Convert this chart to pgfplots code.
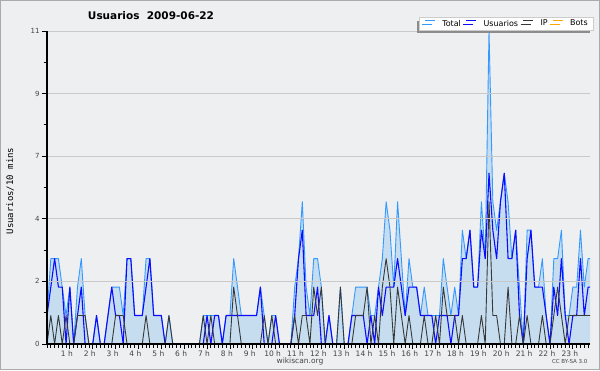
\documentclass[border=0pt]{standalone}
\usepackage{fontspec}
\setmainfont{DejaVu Sans}
\newfontfamily\monofont{DejaVu Sans Mono}
\usepackage{pgfplots}
\pgfplotsset{compat=1.18}
\usepackage{pgfplotstable}
\usetikzlibrary{shadows}
\definecolor{bg}{HTML}{EEEFF1}
\definecolor{frame}{HTML}{ABABAB}
\definecolor{fillc}{HTML}{BFDAF0}
\definecolor{totalc}{HTML}{3399FF}
\definecolor{usuc}{HTML}{0C0CFF}
\definecolor{ipc}{HTML}{383838}
\definecolor{botc}{HTML}{FFA500}
\definecolor{gridc}{HTML}{C9C9C9}
\definecolor{labc}{HTML}{444444}
\pgfplotstableread{
i T U IP B
0 1 1 0 0
1 3 2 1 0
2 3 3 0 0
3 3 2 1 0
4 2 2 0 0
5 1 0 1 0
6 2 2 0 0
7 0 0 0 0
8 2 1 1 0
9 3 2 1 0
10 1 0 1 0
11 0 0 0 0
12 0 0 0 0
13 1 1 0 0
14 0 0 0 0
15 0 0 0 0
16 1 1 0 0
17 2 2 0 0
18 2 1 1 0
19 2 1 1 0
20 1 0 1 0
21 3 3 0 0
22 3 3 0 0
23 1 1 0 0
24 1 1 0 0
25 1 1 0 0
26 3 2 1 0
27 3 3 0 0
28 1 1 0 0
29 1 1 0 0
30 1 1 0 0
31 0 0 0 0
32 1 0 1 0
33 0 0 0 0
34 0 0 0 0
35 0 0 0 0
36 0 0 0 0
37 0 0 0 0
38 0 0 0 0
39 0 0 0 0
40 0 0 0 0
41 1 0 1 0
42 1 1 0 0
43 1 0 1 0
44 1 1 0 0
45 1 1 0 0
46 0 0 0 0
47 1 1 0 0
48 1 1 0 0
49 3 1 2 0
50 2 1 1 0
51 1 1 0 0
52 1 1 0 0
53 1 1 0 0
54 1 1 0 0
55 1 1 0 0
56 2 2 0 0
57 1 0 1 0
58 0 0 0 0
59 1 0 1 0
60 1 1 0 0
61 0 0 0 0
62 0 0 0 0
63 0 0 0 0
64 0 0 0 0
65 2 1 1 0
66 3 3 0 0
67 5 4 1 0
68 2 1 1 0
69 1 1 0 0
70 3 1 2 0
71 3 2 1 0
72 2 0 2 0
73 0 0 0 0
74 1 1 0 0
75 0 0 0 0
76 0 0 0 0
77 2 0 2 0
78 0 0 0 0
79 0 0 0 0
80 1 1 0 0
81 2 1 1 0
82 2 1 1 0
83 2 1 1 0
84 2 0 2 0
85 1 1 0 0
86 1 0 1 0
87 2 2 0 0
88 3 1 2 0
89 5 2 3 0
90 4 2 2 0
91 2 2 0 0
92 5 3 2 0
93 3 2 1 0
94 1 1 0 0
95 3 2 1 0
96 2 2 0 0
97 2 2 0 0
98 1 1 0 0
99 2 1 1 0
100 1 1 0 0
101 1 1 0 0
102 1 0 1 0
103 1 1 0 0
104 3 1 2 0
105 2 1 1 0
106 1 0 1 0
107 2 1 1 0
108 1 1 0 0
109 4 3 1 0
110 3 3 0 0
111 4 4 0 0
112 2 2 0 0
113 2 2 0 0
114 5 4 1 0
115 3 3 0 0
116 11 6 5 0
117 5 4 1 0
118 4 3 1 0
119 5 5 0 0
120 6 6 0 0
121 5 3 2 0
122 3 3 0 0
123 4 4 0 0
124 2 1 1 0
125 0 0 0 0
126 4 3 1 0
127 4 4 0 0
128 2 2 0 0
129 2 2 0 0
130 3 2 1 0
131 1 1 0 0
132 0 0 0 0
133 3 2 1 0
134 3 1 2 0
135 4 3 1 0
136 1 1 0 0
137 1 0 1 0
138 2 1 1 0
139 2 1 1 0
140 4 3 1 0
141 2 1 1 0
142 3 2 1 0
143 3 2 1 0
}\datatable
\begin{document}
\begin{tikzpicture}[x=1pt,y=1pt]
\fill[bg] (0,0) rectangle (600,370);
\draw[frame, line width=1pt] (0.5,0.5) rectangle (599.5,369.5);
\begin{axis}[
  at={(47pt,26pt)}, anchor=south west,
  scale only axis, width=543pt, height=313pt,
  xmin=0, xmax=142.5, ymin=0, ymax=11,
  clip=true,
  axis on top,
  axis x line=bottom, axis y line=left,
  axis line style={-},
  x axis line style={line width=2pt},
  y axis line style={line width=1.2pt},
  ytick={0,2.2,4.4,6.6,8.8,11},
  yticklabels={0,2,4,7,9,11},
  minor ytick={1.1,3.3,5.5,7.7,9.9},
  xtick={6,12,...,138},
  xticklabels={1 h,2 h,3 h,4 h,5 h,6 h,7 h,8 h,9 h,10 h,11 h,12 h,13 h,14 h,15 h,16 h,17 h,18 h,19 h,20 h,21 h,22 h,23 h},
  minor xtick={0,1,...,142},
  tick align=outside,
  major tick length=5pt,
  minor tick length=3.5pt,
  x tick style={line width=0.8pt, black},
  y tick style={line width=0.8pt, black},
  ymajorgrids,
  grid style={gridc, line width=0.8pt, /pgfplots/on layer=axis background},
  tick label style={font=\fontsize{7}{8}\selectfont, text=labc},
  xticklabel style={font=\fontsize{7.5}{8}\selectfont, xshift=-3pt, yshift=2pt},
  yticklabel style={xshift=1pt},
  legend columns=4,
  legend style={at={(1.0055,1.044)}, anchor=north east,
    font=\fontsize{8}{9}\selectfont, fill=white, draw=gray!40,
    inner xsep=5pt, inner ysep=2.5pt, row sep=0pt,
    nodes={inner sep=0pt},
    drop shadow={shadow xshift=-2.5pt, shadow yshift=-3.3pt, fill=black!45, opacity=1},
    /tikz/every odd column/.append style={column sep=7pt},
    /tikz/every even column/.append style={column sep=4.5pt}},
  legend image code/.code={\draw[#1] (0pt,2.9pt) -- (10pt,2.9pt);},
]
\addplot[fill=fillc, fill opacity=0.85, draw=none, forget plot] table[x=i,y=T] {\datatable} \closedcycle;
\addplot[totalc, line width=0.9pt, line join=round] table[x=i,y=T] {\datatable};
\addlegendentry{Total}
\addplot[usuc, line width=1.1pt, line join=round] table[x=i,y=U] {\datatable};
\addlegendentry{Usuarios}
\addplot[ipc, line width=0.9pt, line join=round] table[x=i,y=IP] {\datatable};
\addlegendentry{IP}
\addplot[botc, line width=0.9pt] table[x=i,y=B] {\datatable};
\addlegendentry{Bots}
\end{axis}
\node[font=\bfseries\fontsize{10.5}{12}\selectfont] at (151,354) {Usuarios\ \ 2009-06-22};
\node[rotate=90, font=\monofont\fontsize{9}{10}\selectfont] at (10,179) {Usuarios/10 mins};
\node[font=\fontsize{7.5}{9}\selectfont, text=labc] at (300,9) {wikiscan.org};
\node[font=\fontsize{5.5}{7}\selectfont, text=labc, anchor=east] at (591,9) {CC BY-SA 3.0};
\end{tikzpicture}
\end{document}
